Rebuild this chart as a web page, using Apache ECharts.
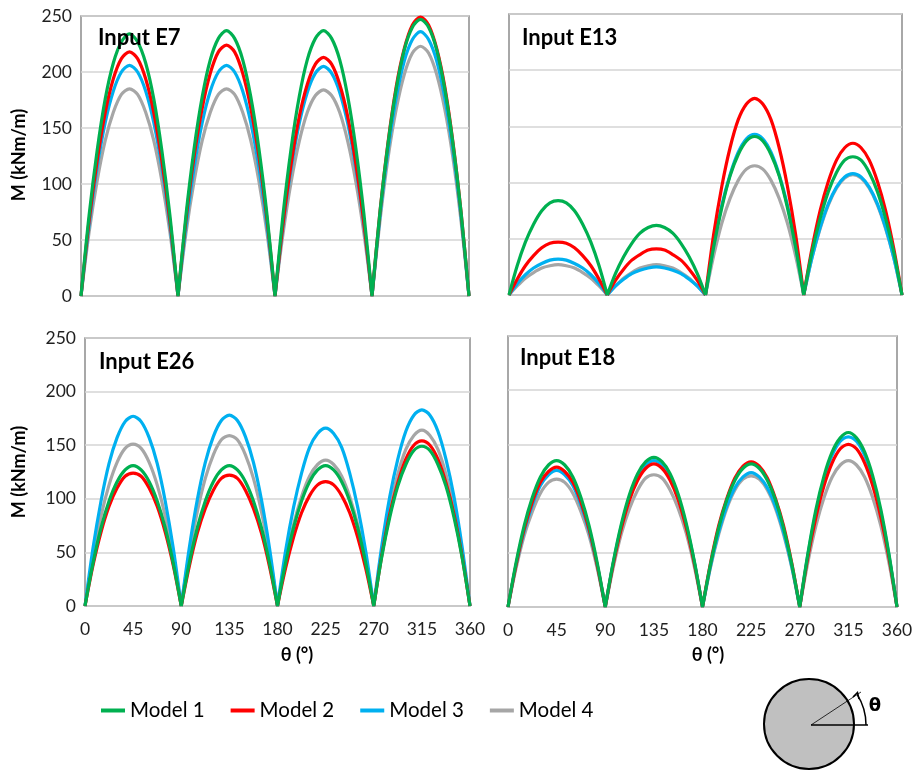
<!DOCTYPE html>
<html>
<head>
<meta charset="utf-8">
<script src="https://cdn.jsdelivr.net/npm/echarts@6/dist/echarts.min.js"></script>
<style>
  html, body { margin: 0; padding: 0; background: #fff; }
  #chart { width: 919px; height: 770px; }
</style>
</head>
<body>
<div id="chart"></div>
<script>
// Bending moment around the lining, sampled every 7.5 degrees
const theta = [0, 7.5, 15, 22.5, 30, 37.5, 45, 52.5, 60, 67.5, 75, 82.5,
               90, 97.5, 105, 112.5, 120, 127.5, 135, 142.5, 150, 157.5, 165, 172.5,
               180, 187.5, 195, 202.5, 210, 217.5, 225, 232.5, 240, 247.5, 255, 262.5,
               270, 277.5, 285, 292.5, 300, 307.5, 315, 322.5, 330, 337.5, 345, 352.5, 360];
const xTicks = [0, 45, 90, 135, 180, 225, 270, 315, 360];
const yTicks = [0, 50, 100, 150, 200, 250];
const modelNames = ['Model 1', 'Model 2', 'Model 3', 'Model 4'];
const modelColors = ['#00b050', '#ff0000', '#00b0f0', '#a6a6a6'];
const panelTitles = ['Input E7', 'Input E13', 'Input E26', 'Input E18'];

// Input E7
const e7Model1 = [0,72,130,176,208,227,234,227,208,176,130,72, 0,73,132,178,211,230,237,230,211,178,132,73,
                  0,73,132,178,211,230,237,230,211,178,132,73, 0,76,137,185,220,240,247,240,220,185,137,76, 0];
const e7Model2 = [0,67,121,164,194,212,218,212,194,164,121,67, 0,69,125,168,199,218,224,218,199,168,125,69,
                  0,65,118,160,189,207,213,207,189,160,118,65, 0,76,138,187,221,242,249,242,221,187,138,76, 0];
const e7Model3 = [0,63,115,155,183,200,206,200,183,155,115,63, 0,63,115,155,183,200,206,200,183,155,115,63,
                  0,63,114,154,182,199,205,199,182,154,114,63, 0,72,131,177,210,229,236,229,210,177,131,72, 0];
const e7Model4 = [0,57,103,139,164,180,185,180,164,139,103,57, 0,57,103,139,164,180,185,180,164,139,103,57,
                  0,56,102,138,164,179,184,179,164,138,102,56, 0,68,124,167,198,217,223,217,198,167,124,68, 0];

// Input E13
const e13Model1 = [0,26,47,63,75,82,84,82,75,63,47,26, 0,19,34,46,55,60,62,60,55,46,34,19,
                   0,43,78,106,125,137,141,137,125,106,78,43, 0,38,68,92,109,120,123,120,109,92,68,38, 0];
const e13Model2 = [0,14,26,35,42,46,47,46,42,35,26,14, 0,13,23,31,36,40,41,40,36,31,23,13,
                   0,54,97,131,156,170,175,170,156,131,97,54, 0,41,75,101,120,131,135,131,120,101,75,41, 0];
const e13Model3 = [0,10,18,24,28,31,32,31,28,24,18,10, 0,8,14,19,22,24,25,24,22,19,14,8,
                   0,44,80,107,127,139,143,139,127,107,80,44, 0,33,60,81,96,105,108,105,96,81,60,33, 0];
const e13Model4 = [0,8,15,20,24,26,27,26,24,20,15,8, 0,8,15,20,24,26,27,26,24,20,15,8,
                   0,35,64,86,102,112,115,112,102,86,64,35, 0,33,59,80,95,104,107,104,95,80,59,33, 0];

// Input E26
const e26Model1 = [0,40,73,98,116,127,131,127,116,98,73,40, 0,40,73,98,116,127,131,127,116,98,73,40,
                   0,40,73,98,116,127,131,127,116,98,73,40, 0,46,83,112,132,145,149,145,132,112,83,46, 0];
const e26Model2 = [0,38,69,93,110,121,124,121,110,93,69,38, 0,37,68,91,108,119,122,119,108,91,68,37,
                   0,35,64,87,103,113,116,113,103,87,64,35, 0,47,86,115,137,150,154,150,137,115,86,47, 0];
const e26Model3 = [0,54,98,133,157,172,177,172,157,133,98,54, 0,54,99,134,158,173,178,173,158,134,99,54,
                   0,51,92,124,148,161,166,161,148,124,92,51, 0,56,102,137,163,178,183,178,163,137,102,56, 0];
const e26Model4 = [0,46,84,113,134,147,151,147,134,113,84,46, 0,49,88,119,141,155,159,155,141,119,88,49,
                   0,42,76,102,121,132,136,132,121,102,76,42, 0,50,91,123,146,159,164,159,146,123,91,50, 0];

// Input E18
const e18Model1 = [0,41,75,101,120,131,135,131,120,101,75,41, 0,42,77,104,123,134,138,134,123,104,77,42,
                   0,40,73,99,117,128,132,128,117,99,73,40, 0,49,90,121,143,156,161,156,143,121,90,49, 0];
const e18Model2 = [0,39,72,97,115,125,129,125,115,97,72,39, 0,40,73,99,117,128,132,128,117,99,73,40,
                   0,41,75,100,119,130,134,130,119,100,75,41, 0,46,83,112,133,146,150,146,133,112,83,46, 0];
const e18Model3 = [0,39,70,94,112,122,126,122,112,94,70,39, 0,41,75,101,120,131,135,131,120,101,75,41,
                   0,38,69,93,110,120,124,120,110,93,69,38, 0,48,87,118,140,153,157,153,140,118,87,48, 0];
const e18Model4 = [0,36,66,88,105,115,118,115,105,88,66,36, 0,37,68,91,108,119,122,119,108,91,68,37,
                   0,37,67,91,108,118,121,118,108,91,67,37, 0,41,75,101,120,131,135,131,120,101,75,41, 0];

const panels = [
  [e7Model1, e7Model2, e7Model3, e7Model4],
  [e13Model1, e13Model2, e13Model3, e13Model4],
  [e26Model1, e26Model2, e26Model3, e26Model4],
  [e18Model1, e18Model2, e18Model3, e18Model4]
];

// Plot-area boxes of the four panels
const grids = [
  { left: 81, top: 16, width: 388, height: 280 },
  { left: 509, top: 14, width: 393, height: 281 },
  { left: 85, top: 338, width: 385, height: 268 },
  { left: 508, top: 336, width: 389, height: 271 }
];

const FONT = 'Lato, "Open Sans", sans-serif';

// Each lobe is its own segment so the curve keeps a sharp cusp at every zero
function lobeData(values) {
  const out = [];
  theta.forEach((t, i) => {
    out.push([t, values[i]]);
    if (t % 90 === 0 && t > 0 && t < 360) {
      out.push([t, '-']);
      out.push([t, values[i]]);
    }
  });
  return out;
}

const xAxes = [], yAxes = [], series = [];
grids.forEach((g, p) => {
  const bottomRow = p >= 2;
  const leftCol = p % 2 === 0;
  xAxes.push({
    type: 'value', gridIndex: p, min: xTicks[0], max: xTicks[xTicks.length - 1],
    interval: xTicks[1] - xTicks[0],
    axisLine: { show: false }, axisTick: { show: false }, splitLine: { show: false },
    axisLabel: { show: bottomRow, color: '#1f1f1f', fontSize: 17.5, fontFamily: FONT, margin: 14 }
  });
  yAxes.push({
    type: 'value', gridIndex: p, min: yTicks[0], max: yTicks[yTicks.length - 1],
    interval: yTicks[1] - yTicks[0],
    axisLine: { show: false }, axisTick: { show: false },
    splitLine: { show: true, lineStyle: { color: '#d4d4d4', width: 1.5 } },
    axisLabel: { show: leftCol, color: '#1f1f1f', fontSize: 17.5, fontFamily: FONT, margin: 9 }
  });
  // draw Model 4 first so Model 1 sits on top
  for (let m = 3; m >= 0; m--) {
    series.push({
      name: modelNames[m], type: 'line', xAxisIndex: p, yAxisIndex: p,
      data: lobeData(panels[p][m]), smooth: 0.3, showSymbol: false,
      connectNulls: false,
      lineStyle: { color: modelColors[m], width: 3.2 },
      itemStyle: { color: modelColors[m] },
      z: 2 + (3 - m)
    });
  }
});

const gridOpts = grids.map(g => Object.assign({
  show: true, borderColor: '#8c8c8c', borderWidth: 1.5, backgroundColor: 'transparent'
}, g));

const titleTexts = [
  { text: panelTitles[0], x: 98, y: 38 },
  { text: panelTitles[1], x: 522, y: 38 },
  { text: panelTitles[2], x: 99, y: 362 },
  { text: panelTitles[3], x: 520, y: 358 }
];

const graphics = titleTexts.map(t => ({
  type: 'text', x: t.x, y: t.y, z: 10,
  style: { text: t.text, fill: '#000', font: 'bold 22px ' + FONT,
           textAlign: 'left', textVerticalAlign: 'middle' }
}));

// axis titles
[{ x: 19, y: 155 }, { x: 19, y: 472 }].forEach(pos => {
  graphics.push({
    type: 'text', x: pos.x, y: pos.y, rotation: Math.PI / 2, z: 10,
    style: { text: 'M (kNm/m)', fill: '#000', font: 'bold 18px ' + FONT,
             textAlign: 'center', textVerticalAlign: 'middle' }
  });
});
[{ x: 297, y: 655 }, { x: 708, y: 655 }].forEach(pos => {
  graphics.push({
    type: 'text', x: pos.x, y: pos.y, z: 10,
    style: { text: 'θ (°)', fill: '#000', font: 'bold 18px ' + FONT,
             textAlign: 'center', textVerticalAlign: 'middle' }
  });
});

// cross-section sketch with the angle convention
const cx = 809, cy = 724;
graphics.push(
  { type: 'circle', shape: { cx: cx, cy: cy, r: 45 },
    style: { fill: '#c0c0c0', stroke: '#000', lineWidth: 2 } },
  { type: 'line', shape: { x1: cx + 2, y1: cy + 1, x2: 868, y2: cy + 1 },
    style: { stroke: '#000', lineWidth: 1.5 } },
  { type: 'line', shape: { x1: cx + 2, y1: cy + 1, x2: 861, y2: 692 },
    style: { stroke: '#000', lineWidth: 0.8 } },
  { type: 'arc', shape: { cx: cx, cy: cy + 1, r: 57, startAngle: 0, endAngle: -0.56, clockwise: false },
    style: { stroke: '#000', lineWidth: 1.5, fill: null } },
  { type: 'polyline', shape: { points: [[853, 697], [857.5, 692.5], [859, 699]] },
    style: { stroke: '#000', lineWidth: 1.5, fill: null } },
  { type: 'text', x: 875, y: 706,
    style: { text: 'θ', fill: '#000', font: 'bold 18px "DejaVu Sans", sans-serif',
             textAlign: 'center', textVerticalAlign: 'middle' } }
);

const chart = echarts.init(document.getElementById('chart'), null, { renderer: 'canvas' });
chart.setOption({
  animation: false,
  backgroundColor: '#ffffff',
  grid: gridOpts,
  xAxis: xAxes,
  yAxis: yAxes,
  legend: {
    data: modelNames, left: 101, top: 700, padding: 0,
    itemWidth: 24, itemHeight: 4, itemGap: 26,
    icon: 'rect',
    textStyle: { color: '#000', fontSize: 20.5, fontFamily: FONT, width: 70 }
  },
  graphic: graphics,
  series: series
});
</script>
</body>
</html>
